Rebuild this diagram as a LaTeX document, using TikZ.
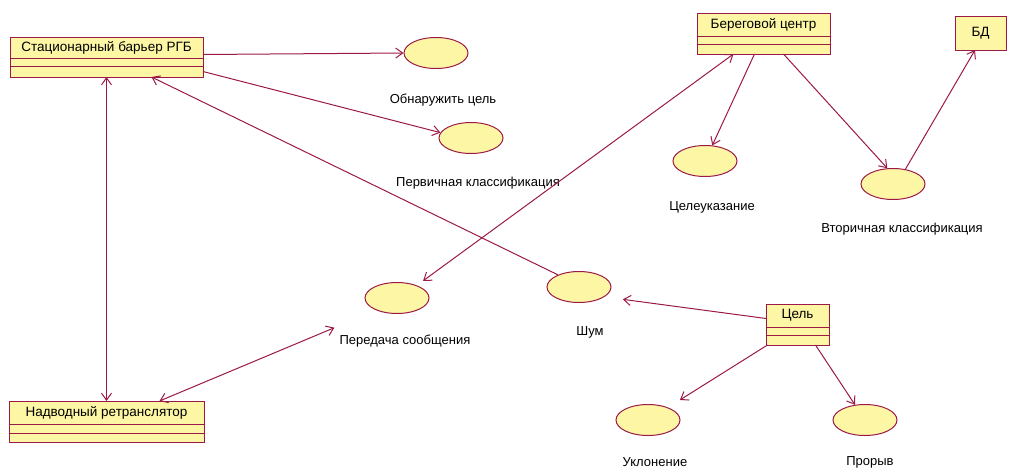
\documentclass[tikz,border=0pt]{standalone}
\usepackage{fontspec}
\setmainfont{Liberation Sans}
\usepackage{xcolor}
\usetikzlibrary{arrows.meta,positioning,shapes.geometric}

\definecolor{umlred}{RGB}{155,25,70}
\definecolor{umlfill}{RGB}{252,246,165}

\tikzset{
  classhead/.style={draw=umlred, fill=umlfill, line width=1pt, inner sep=0pt, outer sep=0pt, minimum height=23pt, font=\fontsize{13.5}{15}\selectfont},
  classpart/.style={draw=umlred, fill=umlfill, line width=1pt, inner sep=0pt, outer sep=0pt, minimum height=#1},
  usecase/.style={ellipse, draw=umlred, fill=umlfill, line width=1pt, minimum width=64pt, minimum height=31pt, inner sep=0pt},
  uclabel/.style={font=\fontsize{13}{15}\selectfont, inner sep=2pt},
  link/.style={draw=umlred, line width=1pt}
}

\begin{document}
\begin{tikzpicture}[x=1pt, y=-1pt, >={Straight Barb[length=7pt,width=10pt]}]
        \useasboundingbox (0,0) rectangle (1010,469);

        % Define classes
        \node[classhead, minimum width=193pt, minimum height=21pt] (stat) at (106.5,47.5) {Стационарный барьер РГБ};
        \node[classpart=8pt, minimum width=193pt, below=0pt of stat] (stat1) {};
        \node[classpart=11pt, minimum width=193pt, below=0pt of stat1] (stat2) {};

        \node[classhead, minimum width=195pt] (nadv) at (106.5,412.5) {Надводный ретранслятор};
        \node[classpart=9pt, minimum width=195pt, below=0pt of nadv] (nadv1) {};
        \node[classpart=9pt, minimum width=195pt, below=0pt of nadv1] (nadv2) {};

        \node[classhead, minimum width=133pt] (bereg) at (763.5,24.5) {Береговой центр};
        \node[classpart=8pt, minimum width=133pt, below=0pt of bereg] (bereg1) {};
        \node[classpart=10pt, minimum width=133pt, below=0pt of bereg1] (bereg2) {};

        \node[classhead, minimum width=51pt, minimum height=34pt] (bd) at (980.5,33) {БД};

        \node[classhead, minimum width=63pt] (cel) at (797.5,315.5) {Цель};
        \node[classpart=8pt, minimum width=63pt, below=0pt of cel] (cel1) {};
        \node[classpart=10pt, minimum width=63pt, below=0pt of cel1] (cel2) {};

        % Define use cases
        \node[usecase] (obn) at (436,53) {};
        \node[usecase] (perv) at (471,138) {};
        \node[usecase] (celeuk) at (705,161) {};
        \node[usecase] (vtor) at (893,184) {};
        \node[usecase] (pered) at (397,298) {};
        \node[usecase] (shum) at (579,287) {};
        \node[usecase] (uklon) at (648,420) {};
        \node[usecase] (proryv) at (865,420) {};

        % Label the use cases
        \node[uclabel] (obnlbl) at (443,100) {Обнаружить цель};
        \node[uclabel] (pervlbl) at (478,183) {Первичная классификация};
        \node[uclabel] (celeuklbl) at (712,207) {Целеуказание};
        \node[uclabel] (vtorlbl) at (902,229) {Вторичная классификация};
        \node[uclabel] (peredlbl) at (405,341) {Передача сообщения};
        \node[uclabel] (shumlbl) at (590,332) {Шум};
        \node[uclabel] (uklonlbl) at (655,462) {Уклонение};
        \node[uclabel] (proryvlbl) at (870,462) {Прорыв};

        % Draw associations
        \draw[link, ->] ([yshift=-7pt]stat.east) -- (obn.west);
        \draw[link, ->] (stat2.east) -- (perv.170);
        \draw[link, <->] (stat2.south) -- (nadv.north);
        \draw[link, ->] (shum.150) -- ([xshift=45pt]stat2.south);
        \draw[link, <->] ([xshift=53pt]nadv.north) -- ([xshift=-3pt,yshift=5pt]peredlbl.north west);
        \draw[link, <->] ([xshift=5pt,yshift=5pt]pered.30) -- ([xshift=-30pt]bereg2.south);
        \draw[link, ->] ([xshift=-9pt]bereg2.south) -- (celeuk.65);
        \draw[link, ->] ([xshift=20pt]bereg2.south) -- (vtor.110);
        \draw[link, ->] (vtor.50) -- ([xshift=-5.5pt]bd.south);
        \draw[link, ->] ([yshift=-3pt]cel.west) -- ([xshift=14pt,yshift=-6pt]shum.-12);
        \draw[link, ->, shorten >=14pt] ([xshift=-30pt]cel2.south) -- (uklon);
        \draw[link, ->] ([xshift=18pt]cel2.south) -- (proryv);

    \end{tikzpicture}
\end{document}
